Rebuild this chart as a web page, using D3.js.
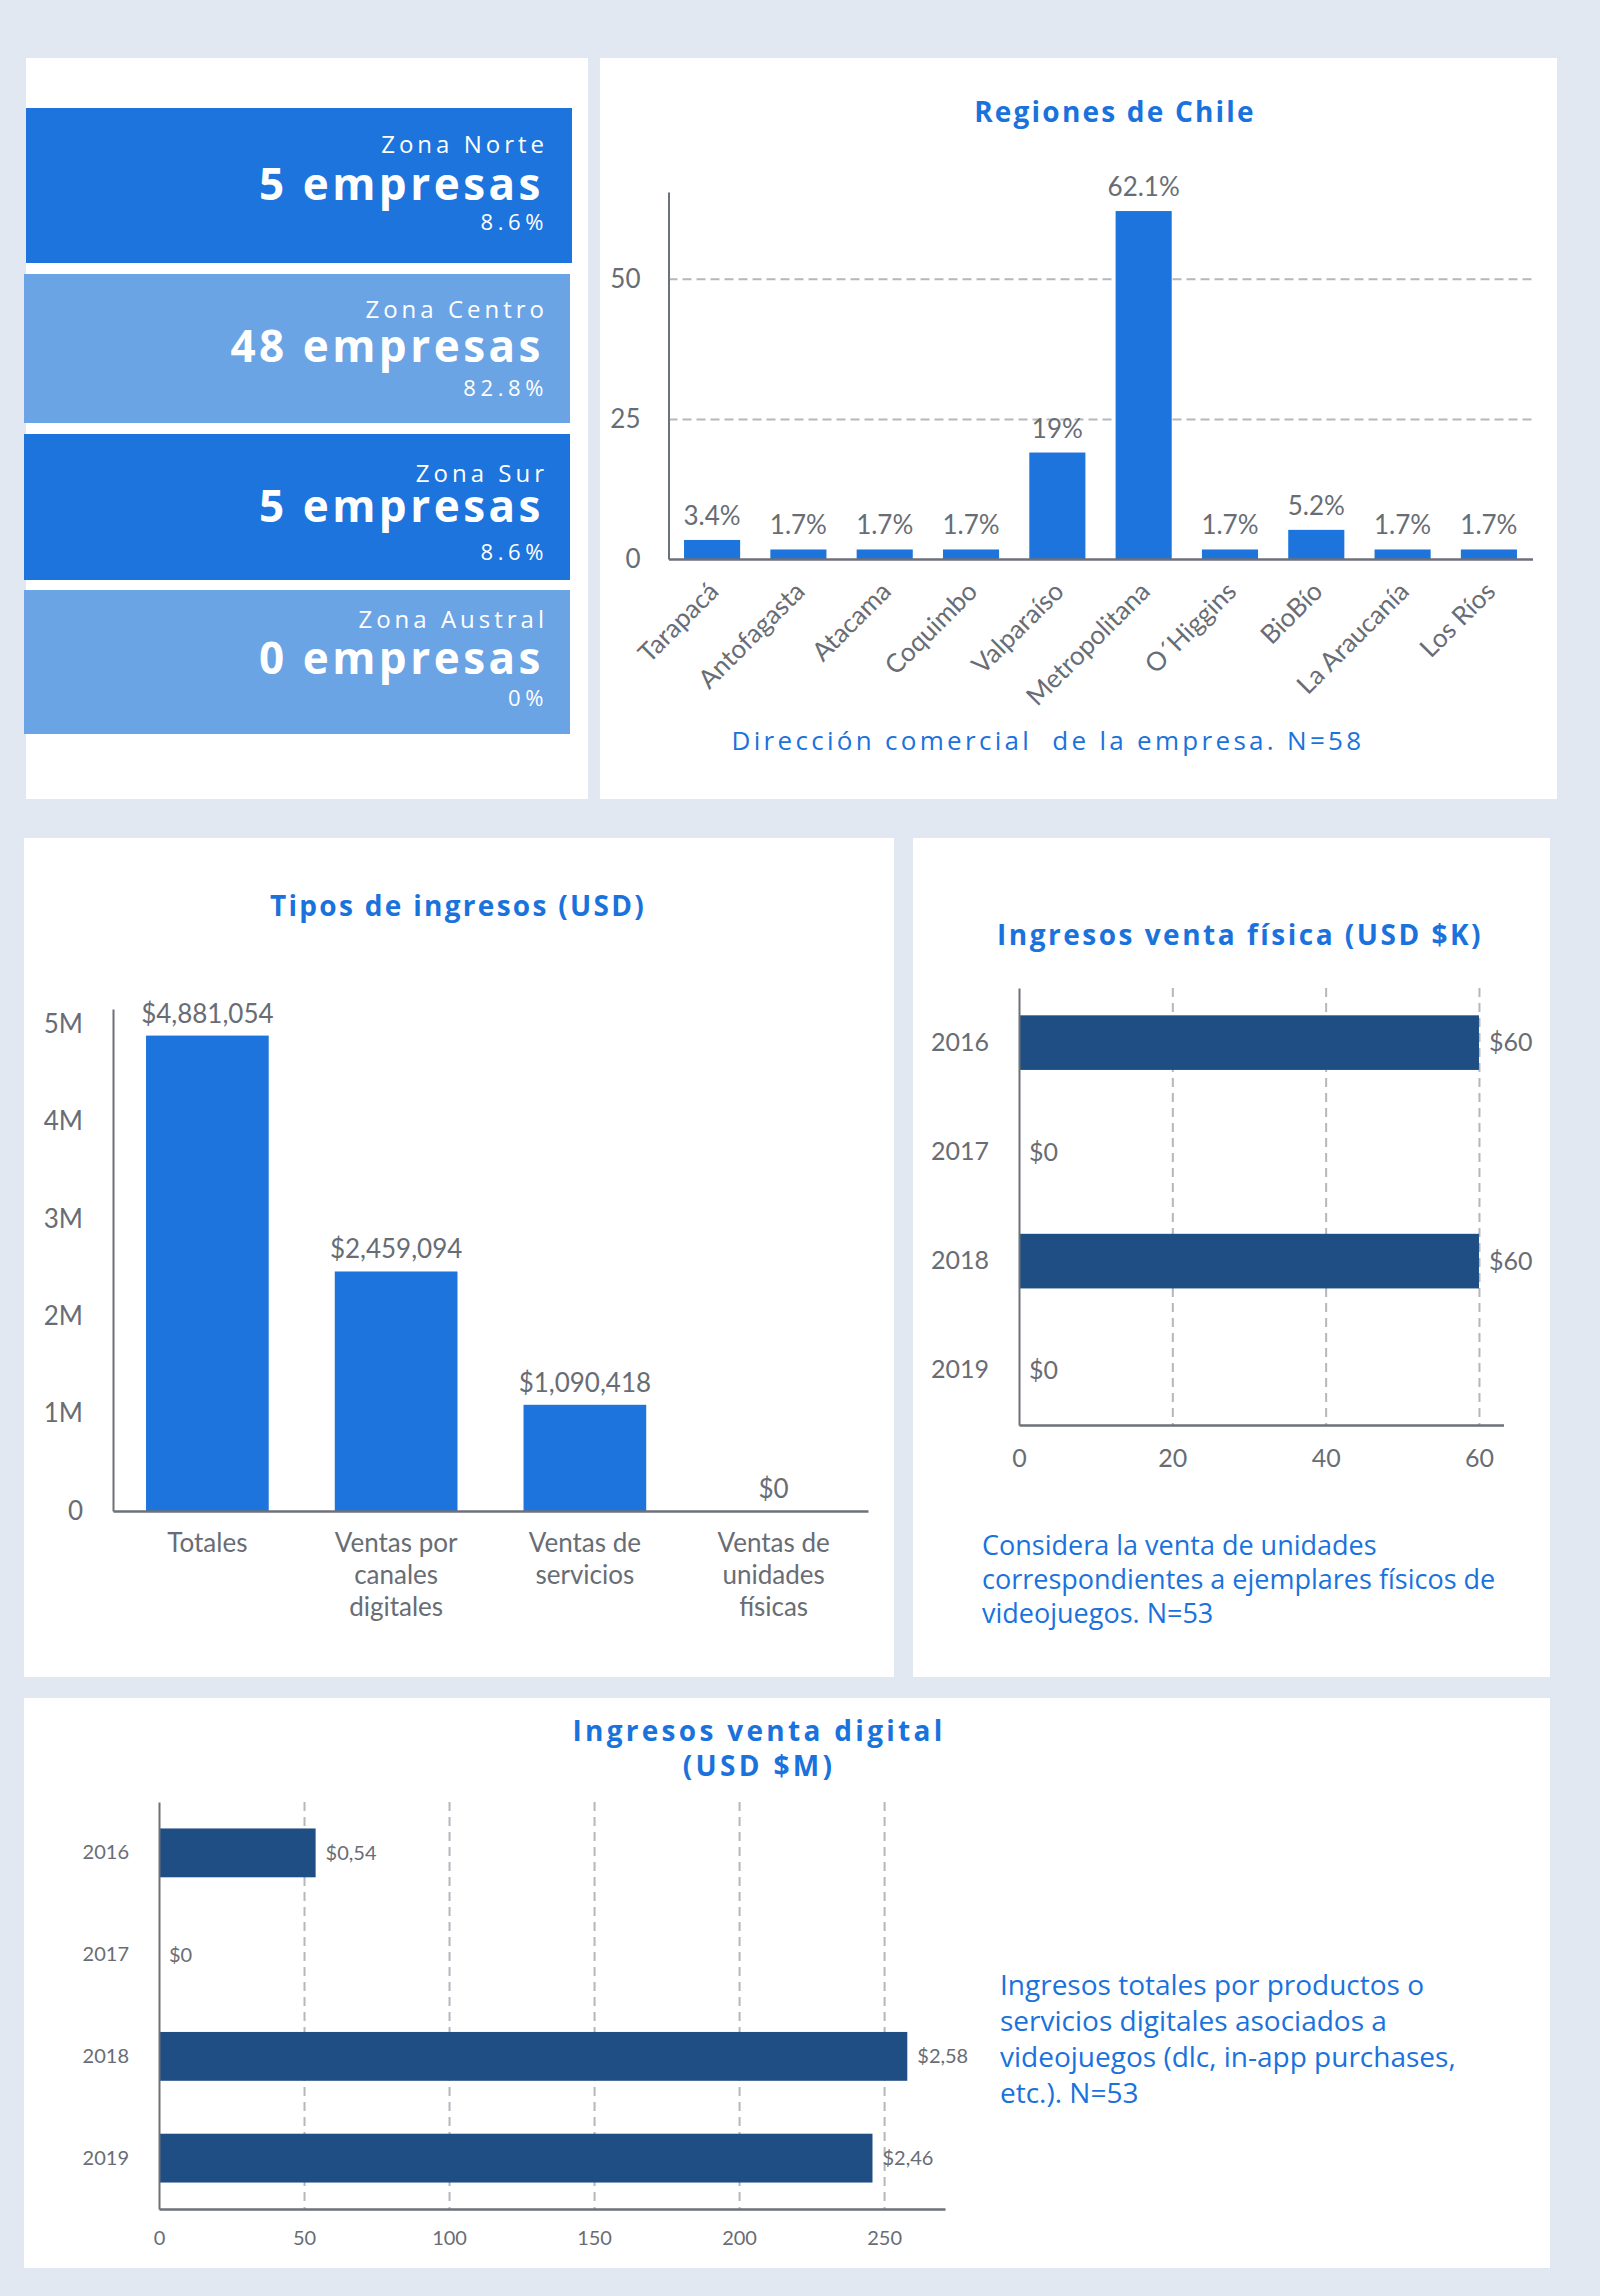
<!DOCTYPE html>
<html>
<head>
<meta charset="utf-8">
<script src="https://cdn.jsdelivr.net/npm/d3@7"></script>
<style>
  html, body { margin: 0; padding: 0; background: #e1e8f1; }
  svg { display: block; }
</style>
</head>
<body>
<div id="chart"></div>
<script>
// ---------------- DATA ----------------
const zoneNames = ["Zona Norte", "Zona Centro", "Zona Sur", "Zona Austral"];
const zoneCounts = [5, 48, 5, 0];
const zonePcts = ["8.6%", "82.8%", "8.6%", "0%"];

const regionNames = ["Tarapacá", "Antofagasta", "Atacama", "Coquimbo", "Valparaíso",
  "Metropolitana", "O´Higgins", "BioBío", "La Araucanía", "Los Ríos"];
const regionValues = [3.4, 1.7, 1.7, 1.7, 19, 62.1, 1.7, 5.2, 1.7, 1.7];
const regionTicks = [0, 25, 50];

const incomeCategories = [["Totales"], ["Ventas por", "canales", "digitales"],
  ["Ventas de", "servicios"], ["Ventas de", "unidades", "físicas"]];
const incomeValues = [4881054, 2459094, 1090418, 0];
const incomeTicks = [0, 1e6, 2e6, 3e6, 4e6, 5e6];

const years = ["2016", "2017", "2018", "2019"];
const physicalValues = [60, 0, 60, 0];
const physicalTicks = [0, 20, 40, 60];

const digitalValues = [54, 0, 258, 246];
const digitalLabels = ["$0,54", "$0", "$2,58", "$2,46"];
const digitalTicks = [0, 50, 100, 150, 200, 250];

// ---------------- STYLE ----------------
const C = {
  bg: "#e1e8f1", panel: "#ffffff", blue: "#1c74dc", light: "#6ba4e4",
  navy: "#1f4e84", title: "#1a72dc", text: "#686d75", axis: "#6d7178", grid: "#b4b7bc"
};
const SANS = "'Open Sans', 'Noto Sans', sans-serif";
const LATO = "Lato, 'Open Sans', sans-serif";

const W = 1600, H = 2296;
const svg = d3.select("#chart").append("svg").attr("width", W).attr("height", H);
svg.append("rect").attr("width", W).attr("height", H).attr("fill", C.bg);

const panels = [
  {x: 26, y: 58, w: 562, h: 741},
  {x: 600, y: 58, w: 957, h: 741},
  {x: 24, y: 838, w: 870, h: 839},
  {x: 913, y: 838, w: 637, h: 839},
  {x: 24, y: 1698, w: 1526, h: 570}
];
svg.selectAll("rect.panel").data(panels).join("rect").attr("class", "panel")
  .attr("x", d => d.x).attr("y", d => d.y).attr("width", d => d.w).attr("height", d => d.h)
  .attr("fill", C.panel);

function title(lines, cx, y0, lh, ls) {
  const t = svg.append("text").attr("text-anchor", "middle")
    .attr("font-family", SANS).attr("font-weight", 700).attr("font-size", 28)
    .style("letter-spacing", (ls || 2.3) + "px").attr("fill", C.title);
  lines.forEach((l, i) => t.append("tspan").attr("x", cx).attr("y", y0 + i * (lh || 34)).text(l));
}

// ---------------- PANEL 1 : zones ----------------
const zoneLayout = {
  x: [26, 24, 24, 24], y: [108, 274, 434, 590], h: [155, 149, 146, 144], w: 546,
  sub: [45, 44, 48, 38], big: [92, 88, 88, 84], pct: [122, 122, 126, 116]
};
const zoneG = svg.append("g");
zoneNames.forEach((name, i) => {
  const g = zoneG.append("g");
  g.append("rect").attr("x", zoneLayout.x[i]).attr("y", zoneLayout.y[i])
    .attr("width", zoneLayout.w).attr("height", zoneLayout.h[i])
    .attr("fill", i % 2 === 0 ? C.blue : C.light);
  const xr = 548;
  g.append("text").attr("x", xr).attr("y", zoneLayout.y[i] + zoneLayout.sub[i])
    .attr("text-anchor", "end").attr("font-family", SANS).attr("font-size", 24)
    .style("letter-spacing", "4px").attr("fill", "#fff").text(name);
  g.append("text").attr("x", xr - 4).attr("y", zoneLayout.y[i] + zoneLayout.big[i])
    .attr("text-anchor", "end").attr("font-family", SANS).attr("font-weight", 700).attr("font-size", 44)
    .style("letter-spacing", "3.5px").attr("fill", "#fff").text(zoneCounts[i] + " empresas");
  g.append("text").attr("x", xr).attr("y", zoneLayout.y[i] + zoneLayout.pct[i])
    .attr("text-anchor", "end").attr("font-family", SANS).attr("font-size", 22)
    .style("letter-spacing", "4.6px").attr("fill", "#fff").text(zonePcts[i]);
});

// ---------------- PANEL 2 : regiones ----------------
title(["Regiones de Chile"], 1115, 122, 34, 2.2);
{
  const x = d3.scaleBand().domain(regionNames).range([668.5, 1532.5]).paddingInner(0.35).paddingOuter(0.18);
  const y = d3.scaleLinear().domain([0, 65.5]).range([559, 192]);
  const g = svg.append("g");
  g.append("g").attr("transform", "translate(668.5,0)")
    .call(d3.axisLeft(y).tickValues([25, 50]).tickSize(-864).tickFormat(""))
    .call(s => s.select(".domain").remove())
    .call(s => s.selectAll("line").attr("stroke", C.grid).attr("stroke-width", 2).attr("stroke-dasharray", "9,5"));
  g.selectAll("rect.bar").data(regionValues).join("rect")
    .attr("x", (d, i) => x(regionNames[i])).attr("width", x.bandwidth())
    .attr("y", d => y(d)).attr("height", d => y(0) - y(d))
    .attr("fill", C.blue);
  g.selectAll("text.val").data(regionValues).join("text")
    .attr("x", (d, i) => x(regionNames[i]) + x.bandwidth() / 2).attr("y", d => y(d) - 15)
    .attr("text-anchor", "middle").attr("font-family", LATO).attr("font-size", 26)
    .attr("fill", C.text).text(d => d + "%");
  g.append("g").attr("transform", "translate(668.5,0)")
    .call(d3.axisLeft(y).tickValues(regionTicks).tickSize(0).tickPadding(28).tickSizeOuter(0))
    .call(s => s.select(".domain").attr("stroke", C.axis).attr("stroke-width", 2))
    .call(s => s.selectAll("text").attr("font-family", LATO).attr("font-size", 26).attr("fill", C.text));
  g.append("g").attr("transform", "translate(0,559)")
    .call(d3.axisBottom(x).tickSize(0).tickSizeOuter(0).tickFormat(""))
    .call(s => s.select(".domain").attr("stroke", C.axis).attr("stroke-width", 2.5));
  g.selectAll("text.xl").data(regionNames).join("text")
    .attr("transform", d => `translate(${x(d) + x.bandwidth() / 2 + 8},${593}) rotate(-45)`)
    .attr("text-anchor", "end").attr("font-family", LATO).attr("font-size", 26)
    .attr("fill", C.text).text(d => d);
  svg.append("text").attr("x", 1048).attr("y", 750).attr("text-anchor", "middle")
    .attr("font-family", SANS).attr("font-size", 26).style("letter-spacing", "3.3px")
    .style("white-space", "pre").attr("fill", C.title)
    .text("Dirección comercial  de la empresa. N=58");
}

// ---------------- PANEL 3 : tipos de ingresos ----------------
title(["Tipos de ingresos (USD)"], 458, 916);
{
  const x = d3.scaleBand().domain(incomeCategories.map(d => d.join(" "))).range([113, 868])
    .paddingInner(0.35).paddingOuter(0.175);
  const y = d3.scaleLinear().domain([0, 5.154e6]).range([1511, 1009]);
  const g = svg.append("g");
  g.selectAll("rect.bar").data(incomeValues).join("rect")
    .attr("x", (d, i) => x(incomeCategories[i].join(" "))).attr("width", x.bandwidth())
    .attr("y", d => y(d)).attr("height", d => y(0) - y(d)).attr("fill", C.blue);
  const fmt = d3.format(",");
  g.selectAll("text.val").data(incomeValues).join("text")
    .attr("x", (d, i) => x(incomeCategories[i].join(" ")) + x.bandwidth() / 2)
    .attr("y", d => y(d) - 13).attr("text-anchor", "middle")
    .attr("font-family", LATO).attr("font-size", 26).attr("fill", C.text)
    .text(d => "$" + fmt(d));
  g.append("g").attr("transform", "translate(113,0)")
    .call(d3.axisLeft(y).tickValues(incomeTicks).tickSize(0).tickPadding(30).tickSizeOuter(0)
      .tickFormat(d => d === 0 ? "0" : (d / 1e6) + "M"))
    .call(s => s.select(".domain").attr("stroke", C.axis).attr("stroke-width", 2))
    .call(s => s.selectAll("text").attr("font-family", LATO).attr("font-size", 26).attr("fill", C.text));
  g.append("g").attr("transform", "translate(0,1511)")
    .call(d3.axisBottom(x).tickSize(0).tickSizeOuter(0).tickFormat(""))
    .call(s => s.select(".domain").attr("stroke", C.axis).attr("stroke-width", 2.5));
  incomeCategories.forEach(lines => {
    const t = g.append("text").attr("text-anchor", "middle").attr("font-family", LATO)
      .attr("font-size", 26).attr("fill", C.text);
    const cx = x(lines.join(" ")) + x.bandwidth() / 2;
    lines.forEach((l, j) => t.append("tspan").attr("x", cx).attr("y", 1552 + j * 32).text(l));
  });
}

// ---------------- PANEL 4 : venta física ----------------
title(["Ingresos venta física (USD $K)"], 1240, 945, 34, 2.5);
{
  const x = d3.scaleLinear().domain([0, 63.2]).range([1019, 1503.5]);
  const y = d3.scaleBand().domain(years).range([988, 1425]).paddingInner(0.5).paddingOuter(0.25);
  const g = svg.append("g");
  g.append("g").attr("transform", "translate(0,988)")
    .call(d3.axisBottom(x).tickValues([20, 40, 60]).tickSize(437).tickFormat(""))
    .call(s => s.select(".domain").remove())
    .call(s => s.selectAll("line").attr("stroke", C.grid).attr("stroke-width", 2).attr("stroke-dasharray", "9,6"));
  g.selectAll("rect.bar").data(physicalValues).join("rect")
    .attr("x", x(0)).attr("y", (d, i) => y(years[i])).attr("height", y.bandwidth())
    .attr("width", d => x(d) - x(0)).attr("fill", C.navy);
  g.selectAll("text.val").data(physicalValues).join("text")
    .attr("x", d => x(d) + 10).attr("y", (d, i) => y(years[i]) + y.bandwidth() / 2)
    .attr("dy", "0.35em").attr("font-family", LATO).attr("font-size", 25).attr("fill", C.text)
    .text(d => "$" + d);
  g.append("g").attr("transform", "translate(1019,0)")
    .call(d3.axisLeft(y).tickSize(0).tickPadding(30).tickSizeOuter(0))
    .call(s => s.select(".domain").attr("stroke", C.axis).attr("stroke-width", 2))
    .call(s => s.selectAll("text").attr("font-family", LATO).attr("font-size", 25).attr("fill", C.text));
  g.append("g").attr("transform", "translate(0,1425)")
    .call(d3.axisBottom(x).tickValues(physicalTicks).tickSize(0).tickPadding(24).tickSizeOuter(0))
    .call(s => s.select(".domain").attr("stroke", C.axis).attr("stroke-width", 2.5))
    .call(s => s.selectAll("text").attr("font-family", LATO).attr("font-size", 25).attr("fill", C.text));
  const cap = svg.append("text").attr("font-family", SANS).attr("font-size", 27).attr("fill", C.title);
  ["Considera la venta de unidades", "correspondientes a ejemplares físicos de", "videojuegos. N=53"]
    .forEach((l, j) => cap.append("tspan").attr("x", 982).attr("y", 1555 + j * 34).text(l));
}

// ---------------- PANEL 5 : venta digital ----------------
title(["Ingresos venta digital", "(USD $M)"], 759, 1741, 35, 3.3);
{
  const x = d3.scaleLinear().domain([0, 271]).range([159, 945]);
  const y = d3.scaleBand().domain(years).range([1802, 2209]).paddingInner(0.52).paddingOuter(0.26);
  const g = svg.append("g");
  g.append("g").attr("transform", "translate(0,1802)")
    .call(d3.axisBottom(x).tickValues(digitalTicks.slice(1)).tickSize(407).tickFormat(""))
    .call(s => s.select(".domain").remove())
    .call(s => s.selectAll("line").attr("stroke", C.grid).attr("stroke-width", 2).attr("stroke-dasharray", "9,6"));
  g.selectAll("rect.bar").data(digitalValues).join("rect")
    .attr("x", x(0)).attr("y", (d, i) => y(years[i])).attr("height", y.bandwidth())
    .attr("width", d => x(d) - x(0)).attr("fill", C.navy);
  g.selectAll("text.val").data(digitalValues).join("text")
    .attr("x", d => x(d) + 10).attr("y", (d, i) => y(years[i]) + y.bandwidth() / 2)
    .attr("dy", "0.35em").attr("font-family", LATO).attr("font-size", 20).attr("fill", C.text)
    .text((d, i) => digitalLabels[i]);
  g.append("g").attr("transform", "translate(159,0)")
    .call(d3.axisLeft(y).tickSize(0).tickPadding(30).tickSizeOuter(0))
    .call(s => s.select(".domain").attr("stroke", C.axis).attr("stroke-width", 2))
    .call(s => s.selectAll("text").attr("font-family", LATO).attr("font-size", 20).attr("fill", C.text));
  g.append("g").attr("transform", "translate(0,2209)")
    .call(d3.axisBottom(x).tickValues(digitalTicks).tickSize(0).tickPadding(22).tickSizeOuter(0))
    .call(s => s.select(".domain").attr("stroke", C.axis).attr("stroke-width", 2.5))
    .call(s => s.selectAll("text").attr("font-family", LATO).attr("font-size", 20).attr("fill", C.text));
  const cap = svg.append("text").attr("font-family", SANS).attr("font-size", 28).attr("fill", C.title);
  ["Ingresos totales por productos o", "servicios digitales asociados a",
   "videojuegos (dlc, in-app purchases,", "etc.). N=53"]
    .forEach((l, j) => cap.append("tspan").attr("x", 1000).attr("y", 1995 + j * 36).text(l));
}
</script>
</body>
</html>
